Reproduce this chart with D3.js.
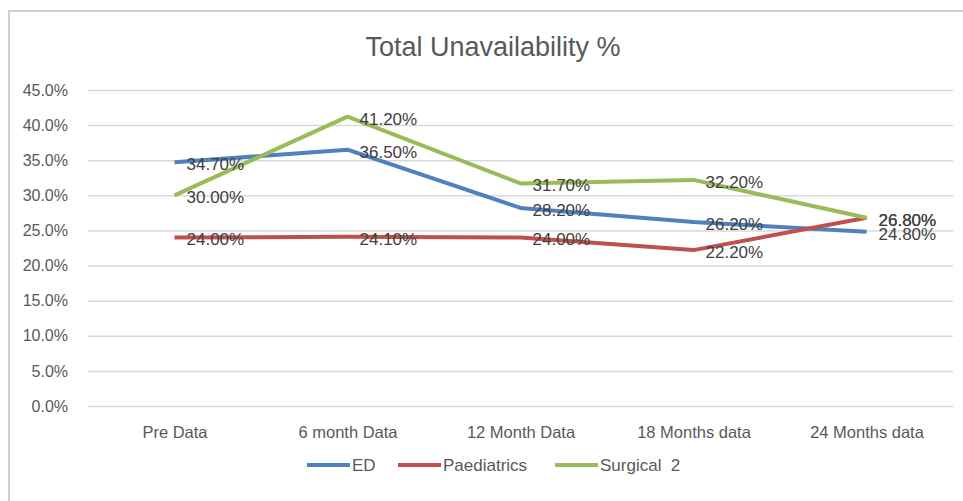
<!DOCTYPE html>
<html>
<head>
<meta charset="utf-8">
<script src="https://cdn.jsdelivr.net/npm/d3@7"></script>
<style>
  body { margin: 0; background: #fff; }
  text { font-family: "Liberation Sans", Arial, sans-serif; }
</style>
</head>
<body>
<div id="chart"></div>
<script>
var svgWidth = 963;
var svgHeight = 501;

// chart data
var categories = ["Pre Data", "6 month Data", "12 Month Data", "18 Months data", "24 Months data"];
var seriesNames = ["ED", "Paediatrics", "Surgical  2"];
var edValues = [34.7, 36.5, 28.2, 26.2, 24.8];
var paedValues = [24.0, 24.1, 24.0, 22.2, 26.8];
var surgValues = [30.0, 41.2, 31.7, 32.2, 26.8];
var yTicks = [0, 5, 10, 15, 20, 25, 30, 35, 40, 45];
var colors = ["#4f81bd", "#c0504d", "#9bbb59"];

var margin = { top: 90, right: 10, bottom: 95, left: 88 };
var chartWidth = 953 - margin.left;
var chartHeight = 406 - margin.top;

var svg = d3.select("#chart")
  .append("svg")
  .attr("width", svgWidth)
  .attr("height", svgHeight);

// outer frame
svg.append("rect")
  .attr("x", 9)
  .attr("y", 11)
  .attr("width", 980)
  .attr("height", 520)
  .attr("fill", "none")
  .attr("stroke", "#d0d0d0")
  .attr("stroke-width", 2);

svg.append("text")
  .attr("x", 493)
  .attr("y", 56)
  .attr("text-anchor", "middle")
  .attr("font-size", "27px")
  .attr("fill", "#595959")
  .text("Total Unavailability %");

var chartGroup = svg.append("g")
  .attr("transform", `translate(${margin.left}, ${margin.top})`);

var xScale = d3.scalePoint()
  .domain(categories)
  .range([0, chartWidth])
  .padding(0.5);

var yScale = d3.scaleLinear()
  .domain([0, 45])
  .range([chartHeight, 0]);

// gridlines + y labels
var leftAxis = d3.axisLeft(yScale)
  .tickValues(yTicks)
  .tickSize(-chartWidth)
  .tickPadding(20)
  .tickFormat(d => d.toFixed(1) + "%");

var yAxis = chartGroup.append("g").call(leftAxis);
yAxis.select(".domain").remove();
yAxis.selectAll(".tick line")
  .attr("stroke", "#d9d9d9")
  .attr("stroke-width", 1.5);
yAxis.selectAll(".tick text")
  .attr("font-size", "16px")
  .attr("fill", "#595959")
  .attr("font-family", "Liberation Sans, Arial, sans-serif");

var bottomAxis = d3.axisBottom(xScale).tickSize(0).tickPadding(20);
var xAxis = chartGroup.append("g")
  .attr("transform", `translate(0, ${chartHeight})`)
  .call(bottomAxis);
xAxis.select(".domain").remove();
xAxis.selectAll(".tick text")
  .attr("font-size", "16.5px")
  .attr("fill", "#595959")
  .attr("font-family", "Liberation Sans, Arial, sans-serif");

var allSeries = [edValues, paedValues, surgValues];

var line = d3.line()
  .x((d, i) => xScale(categories[i]))
  .y(d => yScale(d));

allSeries.forEach(function(values, s) {
  chartGroup.append("path")
    .datum(values)
    .attr("d", line)
    .attr("fill", "none")
    .attr("stroke", colors[s])
    .attr("stroke-width", 4)
    .attr("stroke-linejoin", "round");
});

// data labels (Paediatrics and Surgical both end on 26.80%, drawn on top of each other as in the original)
allSeries.forEach(function(values) {
  chartGroup.selectAll(null)
    .data(values)
    .enter()
    .append("text")
    .attr("x", (d, i) => xScale(categories[i]) + 12)
    .attr("y", d => yScale(d) + 2)
    .attr("dy", "0.35em")
    .attr("font-size", "17px")
    .attr("fill", "#404040")
    .text(d => d.toFixed(2) + "%");
});

// legend
var legendX = [307, 398, 555];
var legend = svg.append("g");
seriesNames.forEach(function(name, s) {
  legend.append("line")
    .attr("x1", legendX[s])
    .attr("x2", legendX[s] + 43)
    .attr("y1", 465)
    .attr("y2", 465)
    .attr("stroke", colors[s])
    .attr("stroke-width", 4);
  legend.append("text")
    .attr("x", legendX[s] + 45)
    .attr("y", 465)
    .attr("dy", "0.35em")
    .attr("font-size", "17px")
    .attr("fill", "#595959")
    .style("white-space", "pre")
    .text(name);
});
</script>
</body>
</html>
